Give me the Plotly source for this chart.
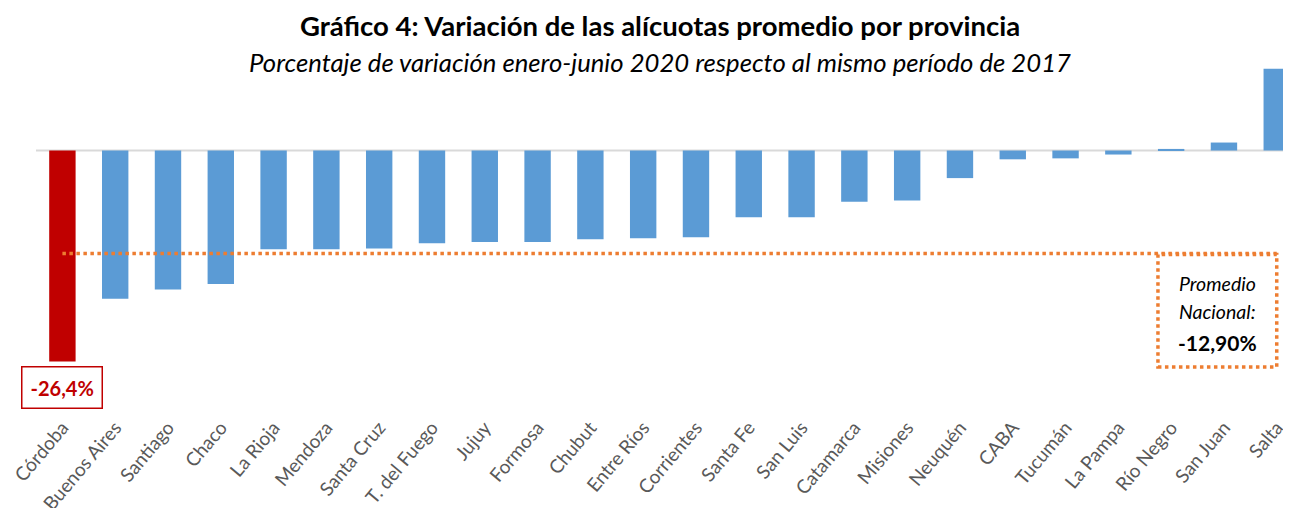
import plotly.graph_objects as go

provincias = ["Córdoba", "Buenos Aires", "Santiago", "Chaco", "La Rioja", "Mendoza",
              "Santa Cruz", "T. del Fuego", "Jujuy", "Formosa", "Chubut", "Entre Ríos",
              "Corrientes", "Santa Fe", "San Luis", "Catamarca", "Misiones", "Neuquén",
              "CABA", "Tucumán", "La Pampa", "Río Negro", "San Juan", "Salta"]
variacion = [-26.4, -18.55, -17.4, -16.7, -12.35, -12.35, -12.25, -11.6, -11.45, -11.45,
             -11.1, -10.97, -10.85, -8.35, -8.35, -6.4, -6.25, -3.45, -1.1, -0.98,
             -0.5, 0.2, 1.0, 10.25]
promedio_nacional = -12.9
destacado = "Córdoba"

BLUE = "#5B9BD5"
RED = "#C00000"
ORANGE = "#ED7D31"
FONT = "Lato"

colors = [RED if p == destacado else BLUE for p in provincias]
idx = list(range(len(provincias)))

fig = go.Figure()
fig.add_trace(go.Bar(x=idx, y=variacion, marker=dict(color=colors, line=dict(width=0)),
                     width=0.5, hoverinfo="x+y"))

# zero line
fig.add_shape(type="line", xref="paper", yref="y", x0=0, x1=1, y0=0, y1=0,
              line=dict(color="#D9D9D9", width=2), layer="below")
# average dotted line
fig.add_shape(type="line", xref="x", yref="y", x0=0, x1=len(provincias) - 1,
              y0=promedio_nacional, y1=promedio_nacional,
              line=dict(color=ORANGE, width=3.5, dash="dot"))
# average box
fig.add_shape(type="rect", xref="x", yref="y", x0=20.75, x1=23.0, y0=-27.1, y1=-13.0,
              line=dict(color=ORANGE, width=3.5, dash="dot"), fillcolor="white")

fig.add_annotation(x=21.88, y=-16.6, xref="x", yref="y", text="<i>Promedio</i>",
                   showarrow=False, yanchor="middle",
                   font=dict(family=FONT, size=19.5, color="#000000"))
fig.add_annotation(x=21.88, y=-20.2, xref="x", yref="y", text="<i>Nacional:</i>",
                   showarrow=False, yanchor="middle",
                   font=dict(family=FONT, size=19.5, color="#000000"))
fig.add_annotation(x=21.88, y=-24.0, xref="x", yref="y",
                   text="<b>" + f"{promedio_nacional:.2f}".replace(".", ",") + "%</b>",
                   showarrow=False, yanchor="middle",
                   font=dict(family=FONT, size=21, color="#000000"))

# highlighted value label
fig.add_annotation(x=0, y=-29.6, xref="x", yref="y",
                   text="<b>" + f"{variacion[0]:.1f}".replace(".", ",") + "%</b>",
                   showarrow=False, yanchor="middle",
                   font=dict(family=FONT, size=20, color=RED),
                   bordercolor=RED, borderwidth=1.5, borderpad=8, bgcolor="white")

# titles
fig.add_annotation(x=0.497, y=1.103, xref="paper", yref="paper", yanchor="middle",
                   text="<b>Gráfico 4: Variación de las alícuotas promedio por provincia</b>",
                   showarrow=False, font=dict(family=FONT, size=27.5, color="#000000"))
fig.add_annotation(x=0.497, y=0.995, xref="paper", yref="paper", yanchor="middle",
                   text="<i>Porcentaje de variación enero-junio 2020 respecto al mismo período de 2017</i>",
                   showarrow=False, font=dict(family=FONT, size=25.7, color="#000000"))

fig.update_layout(
    width=1291, height=508,
    margin=dict(l=28, r=8, t=52, b=118, autoexpand=False),
    paper_bgcolor="white", plot_bgcolor="white",
    showlegend=False,
    xaxis=dict(tickmode="array", tickvals=idx, ticktext=provincias, tickangle=-50,
               range=[-0.5, 23.27], showgrid=False, zeroline=False, showline=False,
               automargin=False,
               tickfont=dict(family=FONT, size=19, color="#595959"),
               ticks="outside", ticklen=10, tickcolor="rgba(0,0,0,0)"),
    yaxis=dict(range=[-30.97, 11.33], showgrid=False, zeroline=False, showline=False,
               automargin=False, showticklabels=False, ticks=""),
)

fig.write_html("out.html")
